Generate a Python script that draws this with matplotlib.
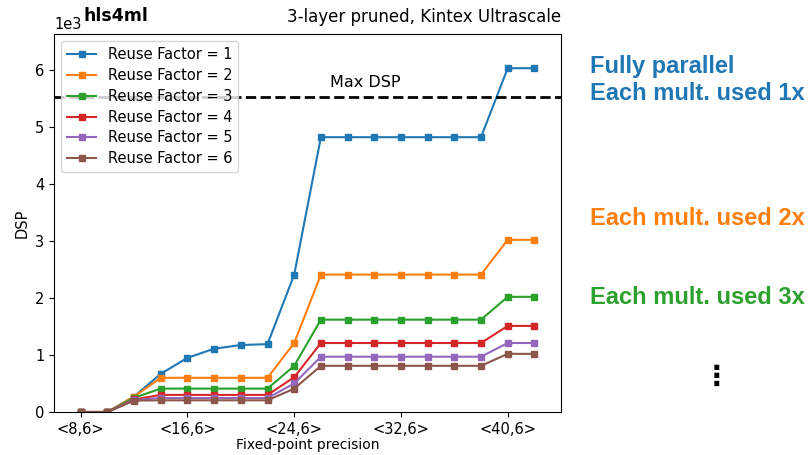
import matplotlib
matplotlib.use("Agg")
import matplotlib.pyplot as plt

# fixed-point widths <W,6>
widths = [8, 10, 12, 14, 16, 18, 20, 22, 24, 26, 28, 30, 32, 34, 36, 38, 40, 42]
tick_widths = [8, 16, 24, 32, 40]
tick_labels = ["<8,6>", "<16,6>", "<24,6>", "<32,6>", "<40,6>"]

# DSP usage (x1e3) per reuse factor
rf1 = [0, 0, 0.27, 0.67, 0.95, 1.11, 1.175, 1.19, 2.41, 4.82, 4.82, 4.82, 4.82, 4.82, 4.82, 4.82, 6.03, 6.03]
rf2 = [0, 0, 0.27, 0.60, 0.60, 0.60, 0.60, 0.60, 1.21, 2.41, 2.41, 2.41, 2.41, 2.41, 2.41, 2.41, 3.02, 3.02]
rf3 = [0, 0, 0.25, 0.41, 0.41, 0.41, 0.41, 0.41, 0.81, 1.62, 1.62, 1.62, 1.62, 1.62, 1.62, 1.62, 2.02, 2.02]
rf4 = [0, 0, 0.22, 0.30, 0.30, 0.30, 0.30, 0.30, 0.61, 1.21, 1.21, 1.21, 1.21, 1.21, 1.21, 1.21, 1.51, 1.51]
rf5 = [0, 0, 0.21, 0.245, 0.245, 0.245, 0.245, 0.245, 0.50, 0.97, 0.97, 0.97, 0.97, 0.97, 0.97, 0.97, 1.21, 1.21]
rf6 = [0, 0, 0.20, 0.205, 0.205, 0.205, 0.205, 0.205, 0.41, 0.81, 0.81, 0.81, 0.81, 0.81, 0.81, 0.81, 1.02, 1.02]
series = [rf1, rf2, rf3, rf4, rf5, rf6]
max_dsp = 5.52

fig = plt.figure(figsize=(8.1, 4.55), dpi=100)
ax = fig.add_axes([0.0667, 0.0945, 0.626, 0.8308])

for i, vals in enumerate(series):
    ax.plot(widths, vals, marker="s", markersize=5, linewidth=1.5,
            label="Reuse Factor = %d" % (i + 1))

ax.axhline(max_dsp, color="black", linestyle="--", linewidth=2)
ax.text(29.3, max_dsp + 0.12, "Max DSP", ha="center", va="bottom", fontsize=11.5)

ax.set_xlim(6, 44)
ax.set_ylim(0, 6.63)
ax.set_xticks(tick_widths)
ax.set_xticklabels(tick_labels)
ax.set_yticks([0, 1, 2, 3, 4, 5, 6])
ax.tick_params(labelsize=10.5)
ax.set_xlabel("Fixed-point precision", fontsize=10, labelpad=1)
ax.set_ylabel("DSP", fontsize=10.5)
ax.text(0.0, 1.005, "1e3", transform=ax.transAxes, fontsize=10.5, va="bottom", ha="left")
ax.text(0.058, 1.025, "hls4ml", transform=ax.transAxes, fontsize=12.5,
        fontweight="bold", va="bottom", ha="left")
ax.text(1.0, 1.02, "3-layer pruned, Kintex Ultrascale", transform=ax.transAxes,
        fontsize=12, va="bottom", ha="right")
ax.legend(loc="upper left", fontsize=10.5, labelspacing=0.4)

side = dict(family="Liberation Sans", fontweight="bold", fontsize=17, ha="left", va="center")
fig.text(0.728, 1 - 67 / 455, "Fully parallel", color="#1f77b4", **side)
fig.text(0.728, 1 - 94 / 455, "Each mult. used 1x", color="#1f77b4", **side)
fig.text(0.728, 1 - 218 / 455, "Each mult. used 2x", color="#ff7f0e", **side)
fig.text(0.728, 1 - 297 / 455, "Each mult. used 3x", color="#2ca02c", **side)
fig.text(0.885, 1 - 377 / 455, "\u22ee", color="black", fontsize=20, fontweight="bold",
         ha="center", va="center")

fig.savefig("out.png", dpi=100)
